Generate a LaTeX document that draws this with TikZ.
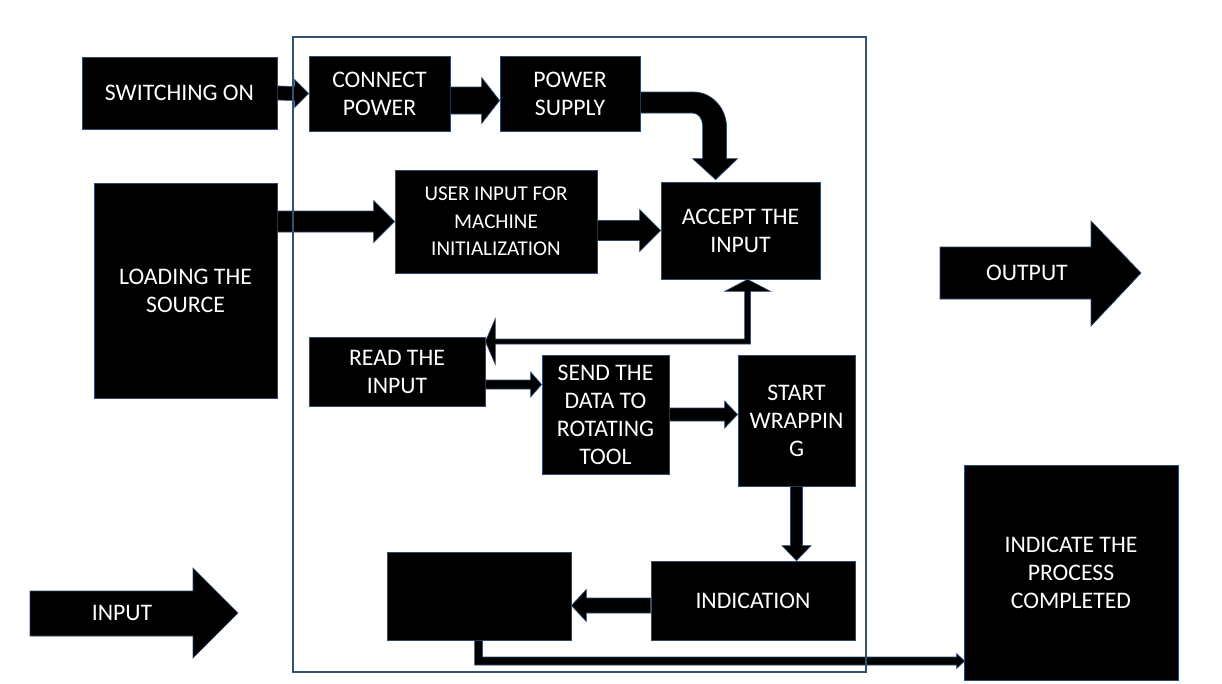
\documentclass[tikz,border=0pt]{standalone}
\usepackage{fontspec}
\setmainfont{Carlito}
\usetikzlibrary{calc}
\definecolor{bordc}{HTML}{2F4A6E}
\definecolor{framec}{HTML}{34506F}
\tikzset{
  box/.style={draw=bordc, fill=black, text=white, line width=0.6pt, align=center, inner sep=0pt, font=\fontsize{17.8}{21}\selectfont},
  txt/.style={text=white, align=center, inner sep=0pt, font=\fontsize{17.8}{21}\selectfont},
  blockarr/.style={fill=black, draw=bordc, line width=0.5pt},
}
% box: [options]{name}{x1}{y1}{x2}{y2}{text}
\newcommand{\mkbox}[7][]{\node[box, #1, minimum width={(#5-#3)*0.75pt}, minimum height={(#6-#4)*0.75pt}] (#2) at ({(#3+#5)/2},{(#4+#6)/2}) {#7};}
% horizontal block arrow: start, tip, shaft half, head half, head length (signed)
\newcommand{\harr}[5]{%
  \coordinate (hA) at #1; \coordinate (hB) at #2;
  \filldraw[blockarr] ($(hA)+(0,{-1*(#3)})$) -- ($(hB)+({-1*(#5)},{-1*(#3)})$) -- ($(hB)+({-1*(#5)},{-1*(#4)})$) -- (hB) -- ($(hB)+({-1*(#5)},#4)$) -- ($(hB)+({-1*(#5)},#3)$) -- ($(hA)+(0,#3)$) -- cycle;}
% vertical block arrow
\newcommand{\varr}[5]{%
  \coordinate (vA) at #1; \coordinate (vB) at #2;
  \filldraw[blockarr] ($(vA)+({-1*(#3)},0)$) -- ($(vB)+({-1*(#3)},{-1*(#5)})$) -- ($(vB)+({-1*(#4)},{-1*(#5)})$) -- (vB) -- ($(vB)+(#4,{-1*(#5)})$) -- ($(vB)+(#3,{-1*(#5)})$) -- ($(vA)+(#3,0)$) -- cycle;}
\begin{document}
\begin{tikzpicture}[x=0.75pt,y=-0.75pt]
\useasboundingbox (0,0) rectangle (1222,683);
% boxes
\mkbox{sw}{82}{57}{277}{129}{SWITCHING ON}
\mkbox{cp}{309}{56}{450}{131}{CONNECT\\POWER}
\mkbox{ps}{500}{56}{640}{131}{POWER\\SUPPLY}
\mkbox{ld}{94}{183}{277}{398}{LOADING THE\\SOURCE}
\mkbox[font=\fontsize{15.8}{20.6}\selectfont]{ui}{395}{170}{597}{273}{USER INPUT FOR\\MACHINE\\INITIALIZATION}
\mkbox{ac}{661}{182}{820}{279}{ACCEPT THE\\INPUT}
\mkbox{rd}{309}{337}{485}{406}{READ THE\\INPUT}
\mkbox{sd}{542}{355}{669}{474}{SEND THE\\DATA TO\\ROTATING\\TOOL}
\mkbox{st}{738}{355}{855}{486}{START\\WRAPPIN\\G}
\mkbox{in}{651}{561}{855}{640}{INDICATION}
\mkbox{bl}{387}{552}{571}{640}{}
\mkbox{ic}{964}{465}{1178}{680}{INDICATE THE\\PROCESS\\COMPLETED}
% side arrows
\filldraw[blockarr] (940,247) -- (1091,247) -- (1091,221) -- (1141,273) -- (1091,326) -- (1091,299) -- (940,299) -- cycle;
\node[txt] (outl) at (1027,273) {OUTPUT};
\filldraw[blockarr] (30,591) -- (193,591) -- (193,568) -- (238,613) -- (193,658) -- (193,636) -- (30,636) -- cycle;
\node[txt] (inl) at (122,613) {INPUT};
% connectors
\harr{(sw.east)}{(cp.west)}{7}{14}{14}
\harr{($(cp.east)+(0,7)$)}{($(ps.west)+(0,7)$)}{13.5}{23}{18}
\harr{(ld.east |- ui.west)}{(ui.west)}{10.5}{21}{21}
\harr{(ui.east |- ac.west)}{(ac.west)}{10}{21}{21}
\harr{($(rd.east)+(0,13)$)}{($(sd.west |- rd.east)+(0,13)$)}{4.5}{12.5}{11}
\harr{(sd.east)}{(st.west |- sd.east)}{6.5}{13.5}{13}
\harr{($(in.west)+(0,5)$)}{($(bl.east |- in.west)+(0,5)$)}{7.5}{16}{-15}
\varr{(st.south)}{(st.south |- in.north)}{6}{14.5}{15}
% curved arrow power supply -> accept
\coordinate (P) at (ps.east);
\coordinate (T) at ($(ac.north west)+(55,-2)$);
\filldraw[blockarr] ($(P)+(0,-1.5)$) -- ($(P)+(53,-1.5)$)
  .. controls ($(P)+(72,-1.5)$) and ($(T)+(11,-71)$) .. ($(T)+(11,-52)$)
  -- ($(T)+(11,-21)$) -- ($(T)+(22,-21)$) -- (T) -- ($(T)+(-23,-21)$) -- ($(T)+(-13,-21)$)
  -- ($(T)+(-13,-54)$) .. controls ($(T)+(-13,-61)$) and ($(P)+(58,19.5)$) .. ($(P)+(52,19.5)$)
  -- ($(P)+(0,19.5)$) -- cycle;
% double arrow read <-> accept
\coordinate (U) at ($(ac.south west)+(87,0)$);
\coordinate (L) at ($(rd.east)+(0,-30)$);
\filldraw[blockarr] (U) -- ++(23,12) -- ++(-20,0) |- ($(L)+(10,2.5)$) -- ++(0,20.5) -- (L)
  -- ($(L)+(10,-23)$) -- ++(0,20.5) -| ($(U)+(-3,12)$) -- ++(-20,0) -- cycle;
% elbow arrow blank -> indicate
\coordinate (E0) at ($(bl.south west)+(88,0)$);
\coordinate (E1) at ($(ic.west)+(1,88.5)$);
\filldraw[blockarr] (E0) |- ($(E1)+(-8,4)$) -- ++(0,3.5) -- (E1) -- ($(E1)+(-8,-7.5)$) -- ++(0,3.5) -| ($(E0)+(8,0)$) -- cycle;
% frame
\draw[framec, line width=0.8pt] (293,37) rectangle (866,672);
\end{tikzpicture}
\end{document}
